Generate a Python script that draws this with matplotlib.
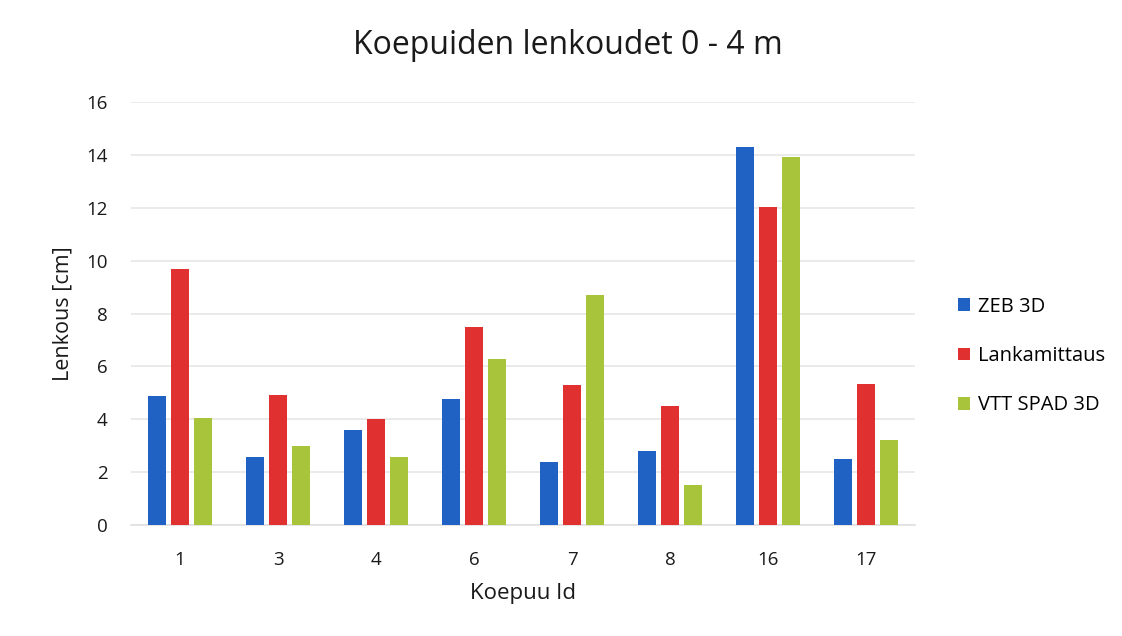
import numpy as np
import matplotlib
matplotlib.use('Agg')
import matplotlib.pyplot as plt

plt.rcParams['font.family'] = ['Open Sans', 'DejaVu Sans']

trees = ['1', '3', '4', '6', '7', '8', '16', '17']
zeb = [4.87, 2.58, 3.61, 4.78, 2.40, 2.80, 14.3, 2.5]
lanka = [9.70, 4.91, 4.00, 7.50, 5.30, 4.52, 12.03, 5.32]
vtt = [4.06, 2.98, 2.56, 6.28, 8.70, 1.50, 13.92, 3.22]

series = ['ZEB 3D', 'Lankamittaus', 'VTT SPAD 3D']
colors = ['#1f62c4', '#e0302f', '#a8c43a']

fig = plt.figure(figsize=(11.22, 6.36), dpi=100)
ax = fig.add_axes([0.1168, 0.1745, 0.6987, 0.665])

x = np.arange(len(trees))
w = 0.175
off = 0.235
for i, (vals, name, c) in enumerate(zip([zeb, lanka, vtt], series, colors)):
    ax.bar(x + (i - 1) * off, vals, w, color=c, label=name, zorder=3)

ax.set_xlim(-0.5, len(trees) - 0.5)
ax.set_ylim(0, 16)
ax.set_yticks(range(0, 17, 2))
ax.set_xticks(x)
ax.set_xticklabels(trees)
ax.yaxis.grid(True, color='#e6e6e6', linewidth=1.2, zorder=0)
for s in ['top', 'right', 'left']:
    ax.spines[s].set_visible(False)
ax.spines['bottom'].set_color('#e0e0e0')
ax.spines['bottom'].set_linewidth(1.2)
ax.tick_params(axis='both', length=0, labelsize=13.5, colors='#1a1a1a')
ax.tick_params(axis='y', pad=17)
ax.tick_params(axis='x', pad=19)

ax.set_ylabel('Lenkous [cm]', fontsize=15.5, labelpad=9, color='#1a1a1a')
ax.set_xlabel('Koepuu Id', fontsize=16, labelpad=10, color='#1a1a1a')
fig.text(0.506, 0.929, 'Koepuiden lenkoudet 0 - 4 m', fontsize=23,
         ha='center', va='center', color='#1a1a1a')

fig.legend(loc='center left', bbox_to_anchor=(0.838, 0.44), frameon=False,
           fontsize=14.5, handlelength=0.6, handleheight=0.6,
           handletextpad=0.4, labelspacing=1.45)

fig.savefig('out.png', dpi=100)
